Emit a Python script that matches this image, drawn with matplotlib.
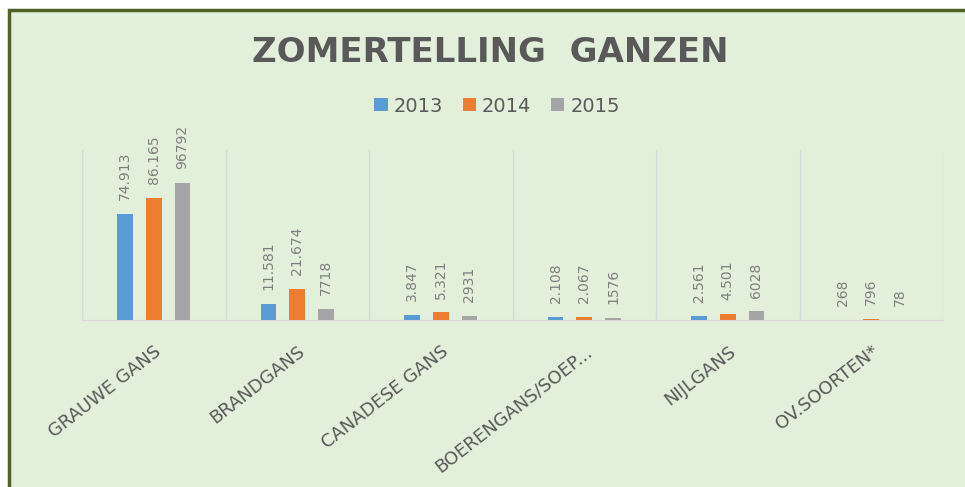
import numpy as np
import matplotlib
matplotlib.use('Agg')
import matplotlib.pyplot as plt
from matplotlib.patches import Rectangle

# data
soorten = ['GRAUWE GANS', 'BRANDGANS', 'CANADESE GANS', 'BOERENGANS/SOEP...', 'NIJLGANS', 'OV.SOORTEN*']
jaren = ['2013', '2014', '2015']
v2013 = [74913, 11581, 3847, 2108, 2561, 268]
v2014 = [86165, 21674, 5321, 2067, 4501, 796]
v2015 = [96792, 7718, 2931, 1576, 6028, 78]
lab2013 = ['74.913', '11.581', '3.847', '2.108', '2.561', '268']
lab2014 = ['86.165', '21.674', '5.321', '2.067', '4.501', '796']
lab2015 = ['96792', '7718', '2931', '1576', '6028', '78']

kleuren = ['#5b9bd5', '#ed7d31', '#a5a5a5']
bg = '#e2efda'

W, H = 965, 487
fig = plt.figure(figsize=(W / 100, H / 100), dpi=100, facecolor='white')

# achtergrond met rand
fig.patches.append(Rectangle((9 / W, -0.05), 1.2, 1 - 10 / H + 0.05, transform=fig.transFigure,
                             facecolor=bg, edgecolor='#4f6228', lw=2.5, zorder=-10))

ax = fig.add_axes([82 / W, 167 / H, (943 - 82) / W, 170 / H])
ax.set_facecolor('none')
ax.set_zorder(1)

x = np.arange(len(soorten))
breedte = 0.11
reeksen = [(v2013, lab2013), (v2014, lab2014), (v2015, lab2015)]
for i, (vals, labs) in enumerate(reeksen):
    pos = x + (i - 1) * 0.2
    ax.bar(pos, vals, width=breedte, color=kleuren[i], label=jaren[i], zorder=3)
    for px, v, t in zip(pos, vals, labs):
        ax.annotate(t, (px, v), xytext=(0, 10), textcoords='offset points', rotation=90,
                    ha='center', va='bottom', fontsize=10, color='#7f7f7f')

ax.set_xlim(-0.5, len(soorten) - 0.5)
ax.set_ylim(0, 120000)
ax.set_yticks([])
ax.set_xticks(np.arange(-0.5, len(soorten), 1), minor=True)
ax.grid(which='minor', axis='x', color='#d9d9d9', lw=1, zorder=0)
ax.set_xticks(x)
ax.set_xticklabels(soorten, rotation=38, ha='right', va='top', rotation_mode='anchor',
                   fontsize=13, color='#595959')
ax.tick_params(axis='x', which='both', length=0)
ax.tick_params(axis='x', which='major', pad=16)
for s in ['left', 'right', 'top']:
    ax.spines[s].set_visible(False)
ax.spines['bottom'].set_color('#d9d9d9')

fig.text(490 / W, 1 - 52 / H, 'ZOMERTELLING  GANZEN', ha='center', va='center',
         fontsize=24.5, weight='bold', color='#595959')

fig.legend(loc='center', bbox_to_anchor=(497 / W, 1 - 106 / H), ncol=3, frameon=False,
           fontsize=14, labelcolor='#595959', handlelength=0.7, handleheight=0.6,
           handletextpad=0.3, columnspacing=1.0)

fig.savefig('out.png', dpi=100, facecolor='white')
